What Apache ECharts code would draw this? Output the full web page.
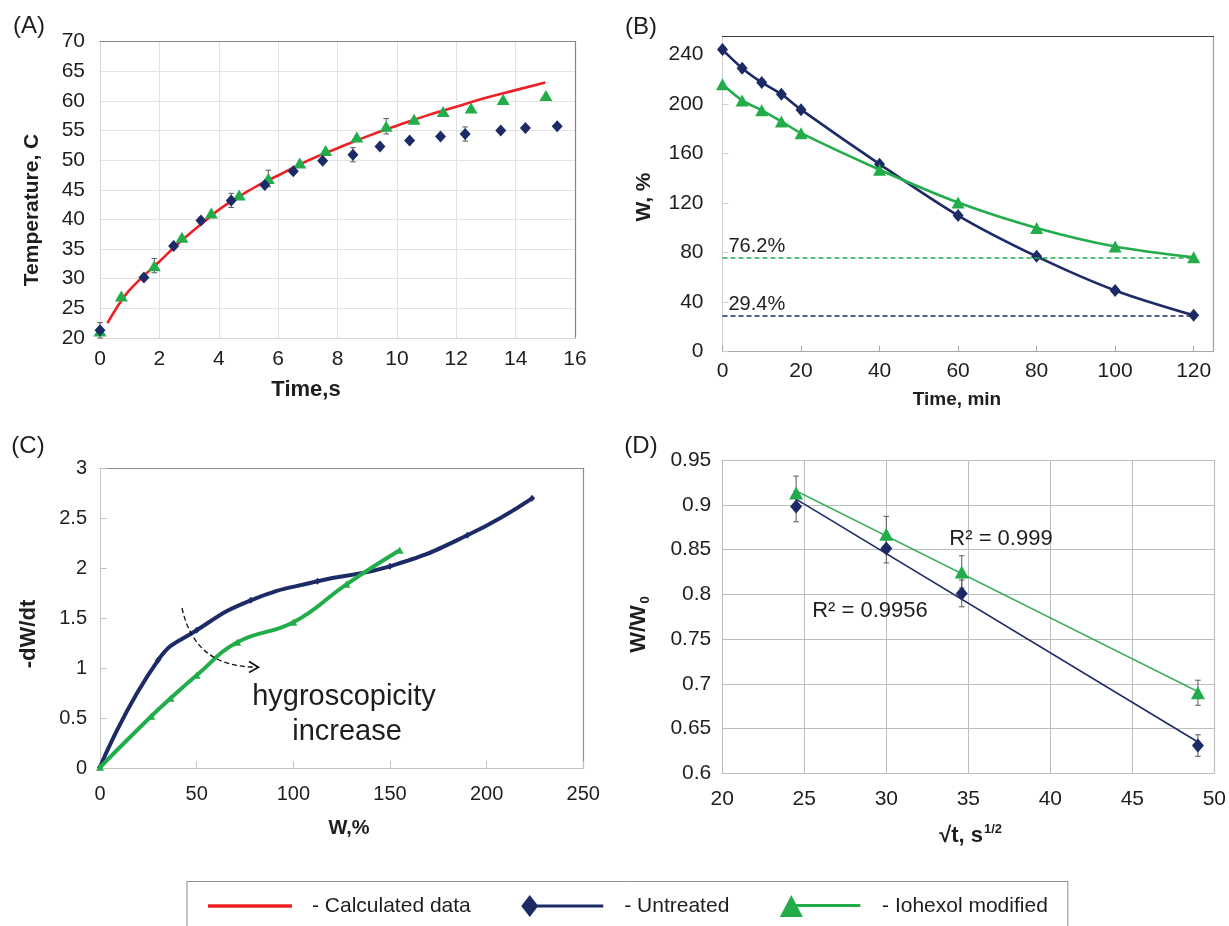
<!DOCTYPE html>
<html>
<head>
<meta charset="utf-8">
<title>Drying and heating kinetics</title>
<script src="https://cdn.jsdelivr.net/npm/echarts@6/dist/echarts.min.js"></script>
<style>
  html, body { margin: 0; padding: 0; background: #ffffff; }
  #chart { width: 1229px; height: 926px; }
</style>
</head>
<body>
<div id="chart"></div>
<script>
// ---------- (A) temperature vs time ----------
const aCalcTime = [0.25, 0.5, 0.75, 1, 1.5, 2, 2.5, 3, 3.5, 4, 4.5, 5, 5.5, 6, 7, 8, 9, 10, 11, 12, 13, 14, 15];
const aCalcTemp = [22.5, 24.6, 26.5, 28.1, 30.6, 32.9, 35.3, 37.5, 39.6, 41.6, 43.3, 44.8, 46.2, 47.4, 49.9, 52.0, 54.0, 55.8, 57.5, 59.0, 60.5, 61.8, 63.1];

const aUntreatedTime = [0, 1.48, 2.48, 3.4, 4.42, 5.55, 6.51, 7.5, 8.52, 9.43, 10.43, 11.47, 12.3, 13.5, 14.33, 15.4];
const aUntreatedTemp = [21.3, 30.2, 35.5, 39.8, 43.2, 45.8, 48.1, 49.9, 50.9, 52.3, 53.3, 54.0, 54.4, 55.0, 55.4, 55.7];
const aUntreatedErr  = [1.3, 0, 0, 0, 1.2, 0, 0, 0, 1.2, 0, 0, 0, 1.2, 0, 0, 0];

const aIohexolTime = [0, 0.72, 1.83, 2.76, 3.75, 4.69, 5.67, 6.73, 7.6, 8.65, 9.64, 10.58, 11.56, 12.5, 13.58, 15.02];
const aIohexolTemp = [21.2, 27.1, 32.2, 37.0, 41.1, 44.1, 46.9, 49.5, 51.6, 53.9, 55.7, 56.9, 58.2, 58.8, 60.2, 60.9];
const aIohexolErr  = [0, 0, 1.2, 0, 0, 0, 1.4, 0, 0, 0, 1.3, 0, 0, 0, 0, 0];

// ---------- (B) moisture content vs drying time ----------
const bTime = [0, 5, 10, 15, 20, 40, 60, 80, 100, 120];
const bUntreated = [244, 229, 217.5, 208, 195.5, 151.5, 110, 77, 49.5, 29.4];
const bIohexol   = [216, 203, 195, 186, 176.5, 147, 120.5, 100, 85, 76.2];

// ---------- (C) drying rate vs moisture content ----------
const cUntreatedW    = [0, 30, 50, 78, 112.5, 150, 190, 223.5];
const cUntreatedRate = [0.01, 1.08, 1.38, 1.68, 1.87, 2.02, 2.33, 2.70];
const cIohexolW      = [0, 26.5, 36.5, 50, 71, 100, 127.5, 155];
const cIohexolRate   = [0.01, 0.52, 0.70, 0.93, 1.26, 1.46, 1.84, 2.18];

// ---------- (D) W/W0 vs square root of time ----------
const dRootTime = [24.5, 30.0, 34.6, 49.0];
const dUntreated    = [0.898, 0.851, 0.801, 0.631];
const dUntreatedErr = [0.017, 0.016, 0.015, 0.012];
const dIohexol      = [0.913, 0.867, 0.825, 0.690];
const dIohexolErr   = [0.019, 0.020, 0.018, 0.014];

// ---------- styling ----------
const FONT = '"Liberation Sans", Arial, Helvetica, sans-serif';
const NAVY = '#1c2a66';
const GREEN = '#22ad4a';
const RED = '#ee2026';
const TXT = '#1e1e1e';

const zip = (xs, ys) => xs.map((x, i) => [x, ys[i]]);
const zipErr = (xs, ys, es) => xs.map((x, i) => [x, ys[i], es[i]]).filter(d => d[2] > 0);

// least-squares straight line over the span of the points
function linearFit(xs, ys) {
  const n = xs.length;
  const mx = xs.reduce((a, b) => a + b, 0) / n;
  const my = ys.reduce((a, b) => a + b, 0) / n;
  let sxy = 0, sxx = 0;
  for (let i = 0; i < n; i++) {
    sxy += (xs[i] - mx) * (ys[i] - my);
    sxx += (xs[i] - mx) * (xs[i] - mx);
  }
  const slope = sxy / sxx;
  const icpt = my - slope * mx;
  return [[xs[0], icpt + slope * xs[0]], [xs[n - 1], icpt + slope * xs[n - 1]]];
}

function errorBars(params, api) {
  const x = api.value(0), y = api.value(1), e = api.value(2);
  const hi = api.coord([x, y + e]);
  const lo = api.coord([x, y - e]);
  const w = 2.8;
  const st = { stroke: '#5a5a5a', lineWidth: 1 };
  return {
    type: 'group',
    children: [
      { type: 'line', shape: { x1: hi[0], y1: hi[1], x2: lo[0], y2: lo[1] }, style: st },
      { type: 'line', shape: { x1: hi[0] - w, y1: hi[1], x2: hi[0] + w, y2: hi[1] }, style: st },
      { type: 'line', shape: { x1: lo[0] - w, y1: lo[1], x2: lo[0] + w, y2: lo[1] }, style: st }
    ]
  };
}

// frame axis (top / right edge of a plot box)
function frameX(gridIndex, min, max, color) {
  return { gridIndex, type: 'value', position: 'top', min, max,
    axisLine: { show: true, onZero: false, lineStyle: { color, width: 1.2 } },
    axisTick: { show: false }, axisLabel: { show: false }, splitLine: { show: false } };
}
function frameY(gridIndex, min, max, color) {
  return { gridIndex, type: 'value', position: 'right', min, max,
    axisLine: { show: true, onZero: false, lineStyle: { color, width: 1.2 } },
    axisTick: { show: false }, axisLabel: { show: false }, splitLine: { show: false } };
}
const lab = (size, margin, extra) => Object.assign({ fontSize: size, fontFamily: FONT, color: TXT, margin }, extra || {});

const lastU = bUntreated[bUntreated.length - 1];
const lastI = bIohexol[bIohexol.length - 1];
const bRefLine = (value, color) => ({
  silent: true,
  symbol: ['none', 'none'],
  lineStyle: { type: [5, 3], width: 1.5, color },
  label: { show: true, position: 'insideStartTop', formatter: value + '%', fontSize: 20, fontFamily: FONT, color: TXT, distance: [6, 1] },
  data: [[{ coord: [bTime[0], value] }, { coord: [bTime[bTime.length - 1], value] }]]
});

const chart = echarts.init(document.getElementById('chart'), null, { renderer: 'canvas' });

const option = {
  animation: false,
  backgroundColor: '#ffffff',
  grid: [
    { left: 100, top: 41.5, width: 475, height: 296.5 },
    { left: 722.5, top: 36, width: 490.8, height: 315.7 },
    { left: 100, top: 468.3, width: 483.3, height: 300 },
    { left: 722.3, top: 460, width: 495.2, height: 313.3 }
  ],
  xAxis: [
    { gridIndex: 0, type: 'value', min: 0, max: 16, interval: 2,
      axisLine: { show: true, onZero: false, lineStyle: { color: '#d4d4d4' } },
      axisTick: { show: false },
      splitLine: { show: true, lineStyle: { color: '#e2e2e2' } },
      axisLabel: lab(21, 11) },
    frameX(0, 0, 16, '#858585'),
    { gridIndex: 1, type: 'value', min: 0, max: 125, interval: 20,
      axisLine: { show: true, onZero: false, lineStyle: { color: '#a8a8a8' } },
      axisTick: { show: true, inside: true, length: 6, lineStyle: { color: '#a8a8a8' } },
      splitLine: { show: false },
      axisLabel: lab(21, 9, { showMaxLabel: false }) },
    frameX(1, 0, 125, '#404040'),
    { gridIndex: 2, type: 'value', min: 0, max: 250, interval: 50,
      axisLine: { show: true, onZero: false, lineStyle: { color: '#c4c4c4' } },
      axisTick: { show: true, inside: true, length: 7, lineStyle: { color: '#c4c4c4' } },
      splitLine: { show: false },
      axisLabel: lab(20, 16) },
    frameX(2, 0, 250, '#8e8e8e'),
    { gridIndex: 3, type: 'value', min: 20, max: 50, interval: 5,
      axisLine: { show: true, onZero: false, lineStyle: { color: '#bdbdbd' } },
      axisTick: { show: false },
      splitLine: { show: true, lineStyle: { color: '#bdbdbd' } },
      axisLabel: lab(21, 15) },
    frameX(3, 20, 50, '#bdbdbd')
  ],
  yAxis: [
    { gridIndex: 0, type: 'value', min: 20, max: 70, interval: 5,
      axisLine: { show: true, onZero: false, lineStyle: { color: '#d4d4d4' } },
      axisTick: { show: false },
      splitLine: { show: true, lineStyle: { color: '#e2e2e2' } },
      axisLabel: lab(21, 15) },
    frameY(0, 20, 70, '#858585'),
    { gridIndex: 1, type: 'value', min: 0, max: 255, interval: 40,
      axisLine: { show: true, onZero: false, lineStyle: { color: '#cfcfcf' } },
      axisTick: { show: true, inside: true, length: 6, lineStyle: { color: '#cfcfcf' } },
      splitLine: { show: false },
      axisLabel: lab(21, 19, { showMaxLabel: false }) },
    frameY(1, 0, 255, '#a0a0a0'),
    { gridIndex: 2, type: 'value', min: 0, max: 3, interval: 0.5,
      axisLine: { show: true, onZero: false, lineStyle: { color: '#c4c4c4' } },
      axisTick: { show: true, inside: true, length: 7, lineStyle: { color: '#c4c4c4' } },
      splitLine: { show: false },
      axisLabel: lab(20, 13) },
    frameY(2, 0, 3, '#8e8e8e'),
    { gridIndex: 3, type: 'value', min: 0.6, max: 0.95, interval: 0.05,
      axisLine: { show: true, onZero: false, lineStyle: { color: '#bdbdbd' } },
      axisTick: { show: false },
      splitLine: { show: true, lineStyle: { color: '#bdbdbd' } },
      axisLabel: lab(21, 11) },
    frameY(3, 0.6, 0.95, '#bdbdbd')
  ],
  legend: {
    left: 187, top: 881.5,
    orient: 'horizontal',
    padding: [13.5, 20, 12, 21],
    borderColor: '#8c8c8c', borderWidth: 1,
    itemGap: 50.5, itemWidth: 84, itemHeight: 22,
    selectedMode: false,
    formatter: name => '- ' + name,
    textStyle: { fontSize: 21, fontFamily: FONT, color: TXT, padding: [0, 0, 0, 15] },
    data: [
      { name: 'Calculated data', icon: 'path://M0,0L84,0L84,3.4L0,3.4Z', itemStyle: { color: RED } },
      { name: 'Untreated', icon: 'path://M0,11L8.5,0L17,11L8.5,22ZM8.5,9.5L82,9.5L82,12.5L8.5,12.5Z', itemStyle: { color: NAVY } },
      { name: 'Iohexol modified', icon: 'path://M0,22L11.5,0L23,22ZM11.5,9L80.5,9L80.5,12L11.5,12Z', itemStyle: { color: GREEN } }
    ]
  },
  series: [
    // (A)
    { type: 'line', name: 'Calculated data', xAxisIndex: 0, yAxisIndex: 0,
      data: zip(aCalcTime, aCalcTemp), smooth: true, showSymbol: false,
      lineStyle: { color: RED, width: 2.6 }, itemStyle: { color: RED }, z: 2 },
    { type: 'custom', name: 'A error', xAxisIndex: 0, yAxisIndex: 0,
      data: zipErr(aUntreatedTime, aUntreatedTemp, aUntreatedErr).concat(zipErr(aIohexolTime, aIohexolTemp, aIohexolErr)),
      renderItem: errorBars, z: 3, silent: true },
    { type: 'scatter', name: 'Iohexol modified', xAxisIndex: 0, yAxisIndex: 0,
      data: zip(aIohexolTime, aIohexolTemp), symbol: 'triangle', symbolSize: [13, 11],
      itemStyle: { color: GREEN, opacity: 1 }, z: 4 },
    { type: 'scatter', name: 'Untreated', xAxisIndex: 0, yAxisIndex: 0,
      data: zip(aUntreatedTime, aUntreatedTemp), symbol: 'diamond', symbolSize: [11, 12],
      itemStyle: { color: NAVY, opacity: 1 }, z: 5 },

    // (B)
    { type: 'line', name: 'Untreated', xAxisIndex: 2, yAxisIndex: 2,
      data: zip(bTime, bUntreated), smooth: 0.3, symbol: 'diamond', symbolSize: [11, 13],
      lineStyle: { color: NAVY, width: 2.6 }, itemStyle: { color: NAVY },
      markLine: bRefLine(lastU, NAVY), z: 4 },
    { type: 'line', name: 'Iohexol modified', xAxisIndex: 2, yAxisIndex: 2,
      data: zip(bTime, bIohexol), smooth: 0.3, symbol: 'triangle', symbolSize: [13, 12],
      lineStyle: { color: GREEN, width: 2.6 }, itemStyle: { color: GREEN },
      markLine: bRefLine(lastI, GREEN), z: 5 },

    // (C)
    { type: 'line', name: 'Untreated', xAxisIndex: 4, yAxisIndex: 4,
      data: zip(cUntreatedW, cUntreatedRate), smooth: 0.5, symbol: 'diamond', symbolSize: [6, 7],
      lineStyle: { color: NAVY, width: 4 }, itemStyle: { color: NAVY }, z: 4 },
    { type: 'line', name: 'Iohexol modified', xAxisIndex: 4, yAxisIndex: 4,
      data: zip(cIohexolW, cIohexolRate), smooth: 0.45, symbol: 'triangle', symbolSize: [8, 7],
      lineStyle: { color: GREEN, width: 4 }, itemStyle: { color: GREEN }, z: 5 },

    // (D)
    { type: 'custom', name: 'D error', xAxisIndex: 6, yAxisIndex: 6,
      data: zipErr(dRootTime, dIohexol, dIohexolErr).concat(zipErr(dRootTime, dUntreated, dUntreatedErr)),
      renderItem: errorBars, z: 2, silent: true },
    { type: 'line', name: 'Iohexol fit', xAxisIndex: 6, yAxisIndex: 6,
      data: linearFit(dRootTime, dIohexol), showSymbol: false, symbol: 'none',
      lineStyle: { color: GREEN, width: 1.6 }, z: 3 },
    { type: 'line', name: 'Untreated fit', xAxisIndex: 6, yAxisIndex: 6,
      data: linearFit(dRootTime, dUntreated), showSymbol: false, symbol: 'none',
      lineStyle: { color: NAVY, width: 1.6 }, z: 3 },
    { type: 'scatter', name: 'Iohexol modified', xAxisIndex: 6, yAxisIndex: 6,
      data: zip(dRootTime, dIohexol), symbol: 'triangle', symbolSize: [14, 13],
      itemStyle: { color: GREEN, opacity: 1 }, z: 4 },
    { type: 'scatter', name: 'Untreated', xAxisIndex: 6, yAxisIndex: 6,
      data: zip(dRootTime, dUntreated), symbol: 'diamond', symbolSize: [12, 14],
      itemStyle: { color: NAVY, opacity: 1 }, z: 5 }
  ],
  graphic: []
};

// panel letters, axis titles and annotations
function txt(text, x, y, size, weight, align, rotation) {
  return {
    type: 'text', x, y, rotation: rotation || 0, silent: true, z: 100,
    style: { text, fontSize: size, fontWeight: weight || 'normal', fontFamily: FONT, fill: TXT,
             align: align || 'center', verticalAlign: 'middle',
             textAlign: align || 'center', textVerticalAlign: 'middle' }
  };
}
const UP = Math.PI / 2;

option.graphic = [
  txt('(A)', 29, 26, 24),
  txt('(B)', 641, 27, 24),
  txt('(C)', 28, 446, 24),
  txt('(D)', 641, 446, 24),

  txt('Temperature, C', 32, 210, 21, 'bold', 'center', UP),
  txt('Time,s', 306, 390, 22, 'bold'),
  txt('W, %', 644, 197, 21, 'bold', 'center', UP),
  txt('Time, min', 957, 400, 19, 'bold'),
  txt('-dW/dt', 29, 634, 22, 'bold', 'center', UP),
  txt('W,%', 349, 828, 20, 'bold'),
  txt('W/W', 639, 629, 22, 'bold', 'center', UP),
  txt('0', 645, 600, 13, 'bold', 'center', UP),
  txt('\u221At, s', 983, 836, 22, 'bold', 'right'),
  txt('1/2', 984, 829, 13, 'bold', 'left'),

  txt('hygroscopicity', 344, 697, 29),
  txt('increase', 347, 732, 29),
  txt('R\u00B2 = 0.999', 1001, 539, 22),
  txt('R\u00B2 = 0.9956', 870, 611, 22),

  { type: 'bezierCurve', silent: true, z: 100,
    shape: { x1: 182, y1: 608, cpx1: 195, cpy1: 668, x2: 257, y2: 667 },
    style: { stroke: '#111111', lineWidth: 1.3, lineDash: [5, 3], fill: null } },
  { type: 'polyline', silent: true, z: 100,
    shape: { points: [[249, 661.5], [258.5, 667.2], [249, 672.5]] },
    style: { stroke: '#111111', lineWidth: 1.6, fill: null } }
];

chart.setOption(option);
</script>
</body>
</html>
